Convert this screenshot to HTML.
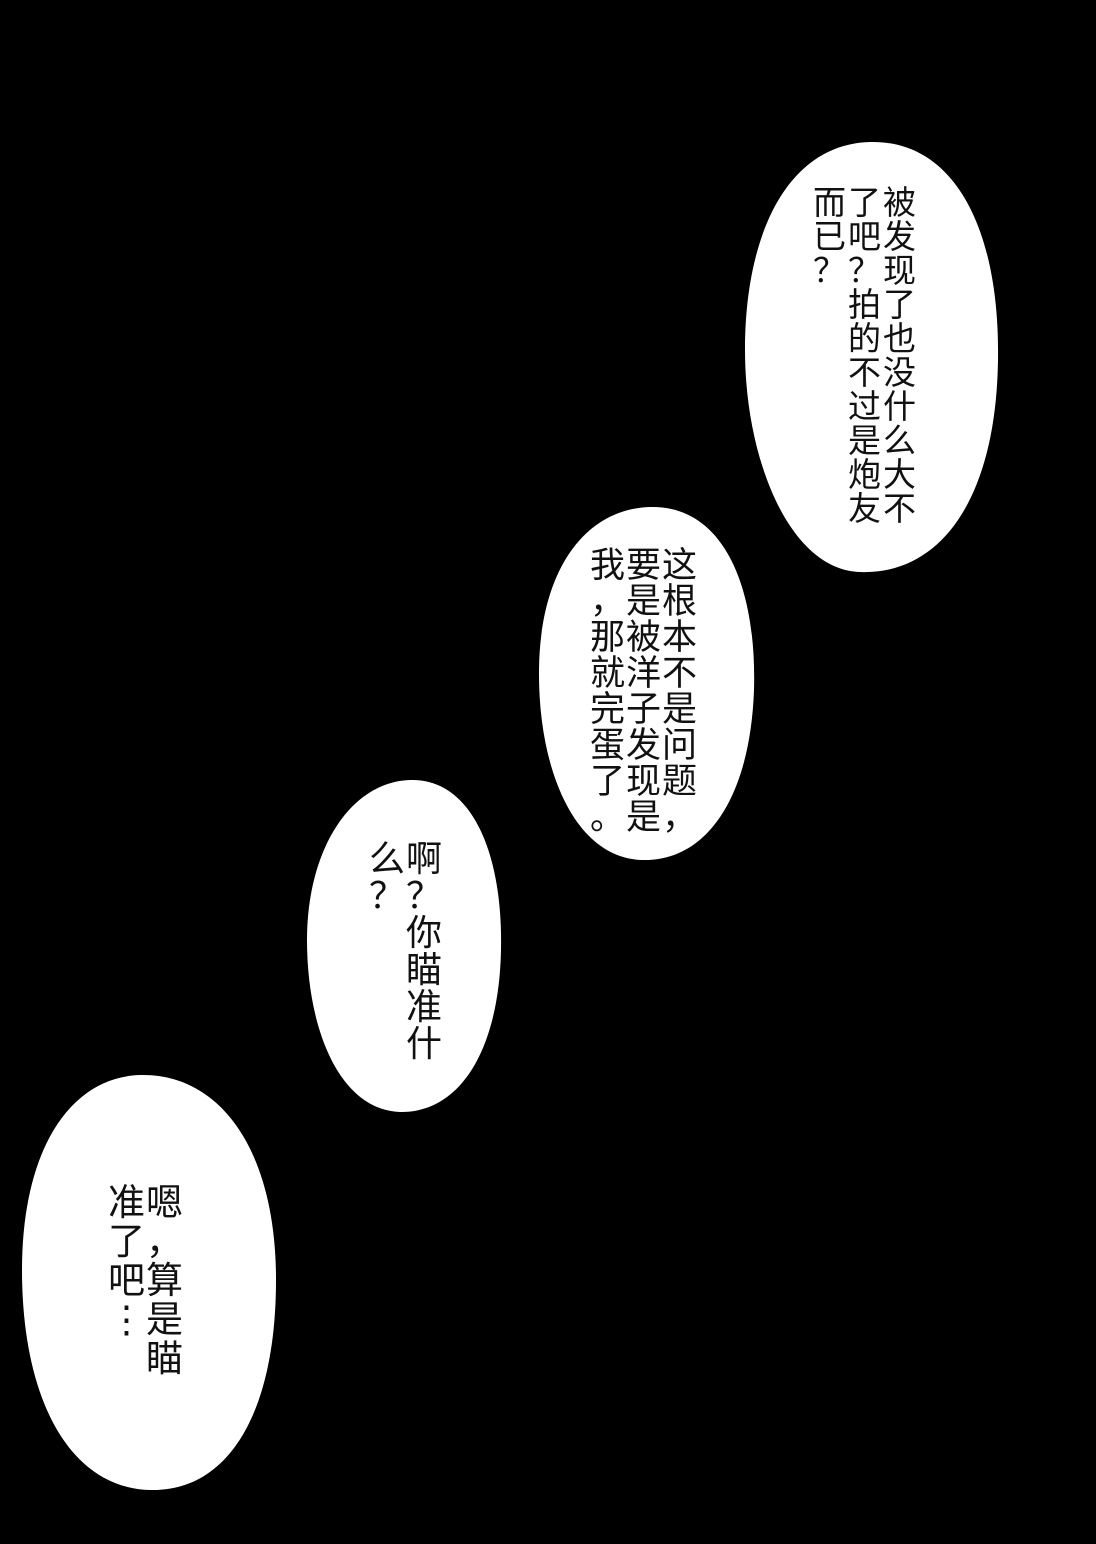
<!DOCTYPE html>
<html><head><meta charset="utf-8"><style>
html,body{margin:0;padding:0;background:#000;}
#c{position:relative;width:1096px;height:1544px;background:#000;overflow:hidden;}
svg{position:absolute;left:0;top:0;}
.col{position:absolute;font-family:"Liberation Sans","Noto Sans CJK SC",sans-serif;color:#111;white-space:nowrap;text-align:center;}
</style></head><body><div id="c">
<svg width="1096" height="1544">
<path d="M870 142 C955 140 1000 230 998 360 C996 500 940 575 860 572 C790 570 745 460 745 350 C745 230 790 144 870 142 Z" fill="#fff"/>
<path d="M650 507 C720 505 757 580 754 690 C750 800 705 862 642 860 C575 858 538 770 539 670 C540 570 585 509 650 507 Z" fill="#fff"/>
<path d="M410 780 C470 778 503 850 501 950 C499 1050 460 1113 400 1112 C340 1110 307 1030 307 940 C307 850 350 782 410 780 Z" fill="#fff"/>
<path d="M140 1075 C220 1073 276 1150 276 1280 C276 1410 230 1492 150 1490 C70 1488 22 1400 22 1270 C22 1150 70 1077 140 1075 Z" fill="#fff"/>
</svg>
<div class="col" style="left:883px;top:186px;font-size:33px;line-height:34px;">被<br>发<br>现<br>了<br>也<br>没<br>什<br>么<br>大<br>不</div>
<div class="col" style="left:848px;top:186px;font-size:33px;line-height:34px;">了<br>吧<br>？<br>拍<br>的<br>不<br>过<br>是<br>炮<br>友</div>
<div class="col" style="left:813px;top:186px;font-size:33px;line-height:34px;">而<br>已<br>？</div>
<div class="col" style="left:662px;top:548px;font-size:35px;line-height:36px;">这<br>根<br>本<br>不<br>是<br>问<br>题<br>，</div>
<div class="col" style="left:626px;top:548px;font-size:35px;line-height:36px;">要<br>是<br>被<br>洋<br>子<br>发<br>现<br>是</div>
<div class="col" style="left:590px;top:548px;font-size:35px;line-height:36px;">我<br>，<br>那<br>就<br>完<br>蛋<br>了<br>。</div>
<div class="col" style="left:406px;top:840px;font-size:36px;line-height:37px;">啊<br>？<br>你<br>瞄<br>准<br>什</div>
<div class="col" style="left:369px;top:840px;font-size:36px;line-height:37px;">么<br>？</div>
<div class="col" style="left:146px;top:1183px;font-size:37px;line-height:39px;">嗯<br>，<br>算<br>是<br>瞄</div>
<div class="col" style="left:108px;top:1183px;font-size:37px;line-height:39px;">准<br>了<br>吧<br>⋮</div>
</div></body></html>
